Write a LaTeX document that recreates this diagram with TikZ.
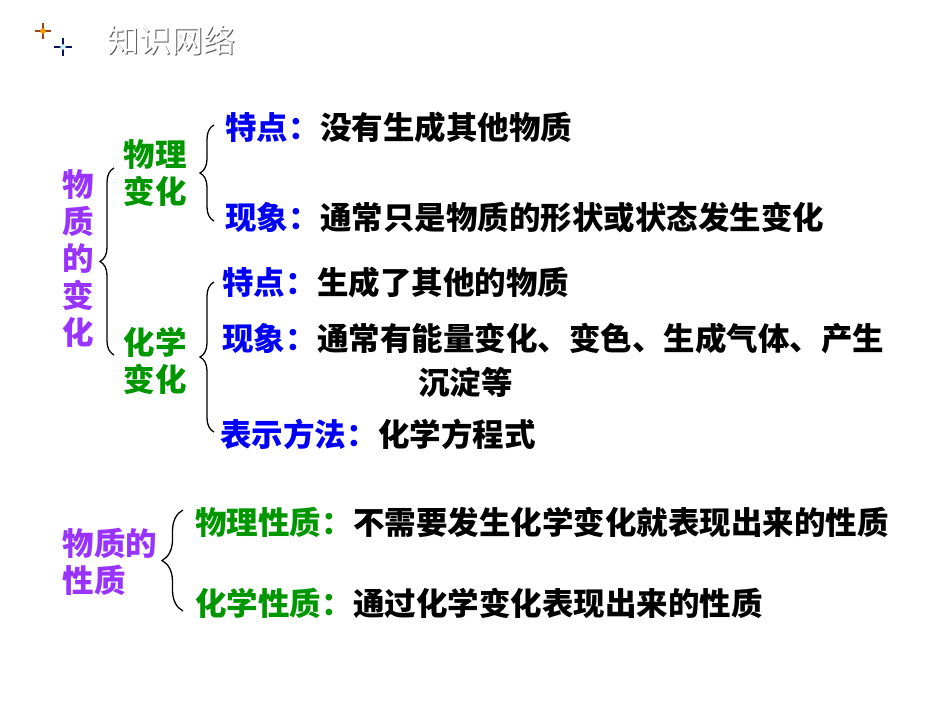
\documentclass[tikz,border=0pt]{standalone}
\usepackage{fontspec}
\setmainfont{Noto Sans CJK SC}
\usetikzlibrary{positioning,decorations.pathreplacing}
\definecolor{violetc}{RGB}{153,51,255}
\definecolor{greenc}{RGB}{0,150,0}
\definecolor{bluec}{RGB}{0,0,245}
\definecolor{sparkorange}{RGB}{150,70,20}
\definecolor{sparknavy}{RGB}{10,20,90}
\tikzset{
  cjkfont/.style={font=\fontsize{31.5}{37}\selectfont\bfseries},
  topnode/.style={cjkfont, text=violetc, align=center, inner sep=0pt},
  subnode/.style={cjkfont, text=greenc, align=center, inner sep=0pt},
  keynode/.style={cjkfont, text=bluec, anchor=west, inner sep=0pt},
  greenkey/.style={cjkfont, text=greenc, anchor=west, inner sep=0pt},
  bodynode/.style={cjkfont, text=black, anchor=base west, inner sep=0pt},
  bracestyle/.style={decorate, decoration={brace, amplitude=#1, aspect=0.5}, line width=1.3pt},
  bracestyle/.default=14pt,
  titletext/.style={font=\fontsize{32}{36}\selectfont, inner sep=0pt, anchor=west}
}
\begin{document}
\begin{tikzpicture}[x=1pt, y=-1pt]
  \useasboundingbox (0,0) rectangle (950,713);
  % sparkles and heading
  \draw[sparkorange, line width=1.8pt] (35,31) -- (51,31) (43,23) -- (43,39);
  \fill[orange!80!yellow] (43,31) circle (2.8);
  \draw[sparknavy, line width=2pt] (54,47) -- (72,47) (63,38) -- (63,56);
  \fill[cyan!20] (63,47) circle (2.8);
  \node[titletext, text=black!65] (titleshadow) at (108.5,41.5) {知识网络};
  \node[titletext, text=white] (title) at (107.3,40.3) {知识网络};

  % changes of matter
  \node[topnode] (change) at (78,259) {物\\质\\的\\变\\化};
  \node[subnode] (phys) at (155,173) {物理\\变化};
  \node[subnode] (chem) at (155,361) {化学\\变化};
  \coordinate (bigtop) at (114,168);
  \coordinate (bigbot) at (114,355);
  \draw[bracestyle] (bigbot) -- (bigtop);

  \node[keynode] (k1) at (225,128) {特点：};
  \node[bodynode] (b1) at (k1.base east) {没有生成其他物质};
  \node[keynode] (k2) at (225,217) {现象：};
  \node[bodynode] (b2) at (k2.base east) {通常只是物质的形状或状态发生变化};
  \coordinate (p1top) at (214,125);
  \coordinate (p1bot) at (214,221);
  \draw[bracestyle] (p1bot) -- (p1top);

  \node[keynode] (k3) at (222,283) {特点：};
  \node[bodynode] (b3) at (k3.base east) {生成了其他的物质};
  \node[keynode] (k4) at (222,338) {现象：};
  \node[bodynode] (b4) at (k4.base east) {通常有能量变化、变色、生成气体、产生};
  \node[keynode, text=black] (b5) at (418,382) {沉淀等};
  \node[keynode] (k6) at (220,434) {表示方法：};
  \node[bodynode] (b6) at (k6.base east) {化学方程式};
  \coordinate (c1top) at (214,282);
  \coordinate (c1bot) at (214,432);
  \draw[bracestyle] (c1bot) -- (c1top);

  % properties of matter
  \node[topnode, align=left] (prop) at (110,562) {物质的\\性质};
  \node[greenkey] (k7) at (195,522) {物理性质：};
  \node[bodynode] (b7) at (k7.base east) {不需要发生化学变化就表现出来的性质};
  \node[greenkey] (k8) at (195,603) {化学性质：};
  \node[bodynode] (b8) at (k8.base east) {通过化学变化表现出来的性质};
  \coordinate (ptop) at (183,510);
  \coordinate (pbot) at (183,611);
  \draw[bracestyle=21pt] (pbot) -- (ptop);
\end{tikzpicture}
\end{document}
